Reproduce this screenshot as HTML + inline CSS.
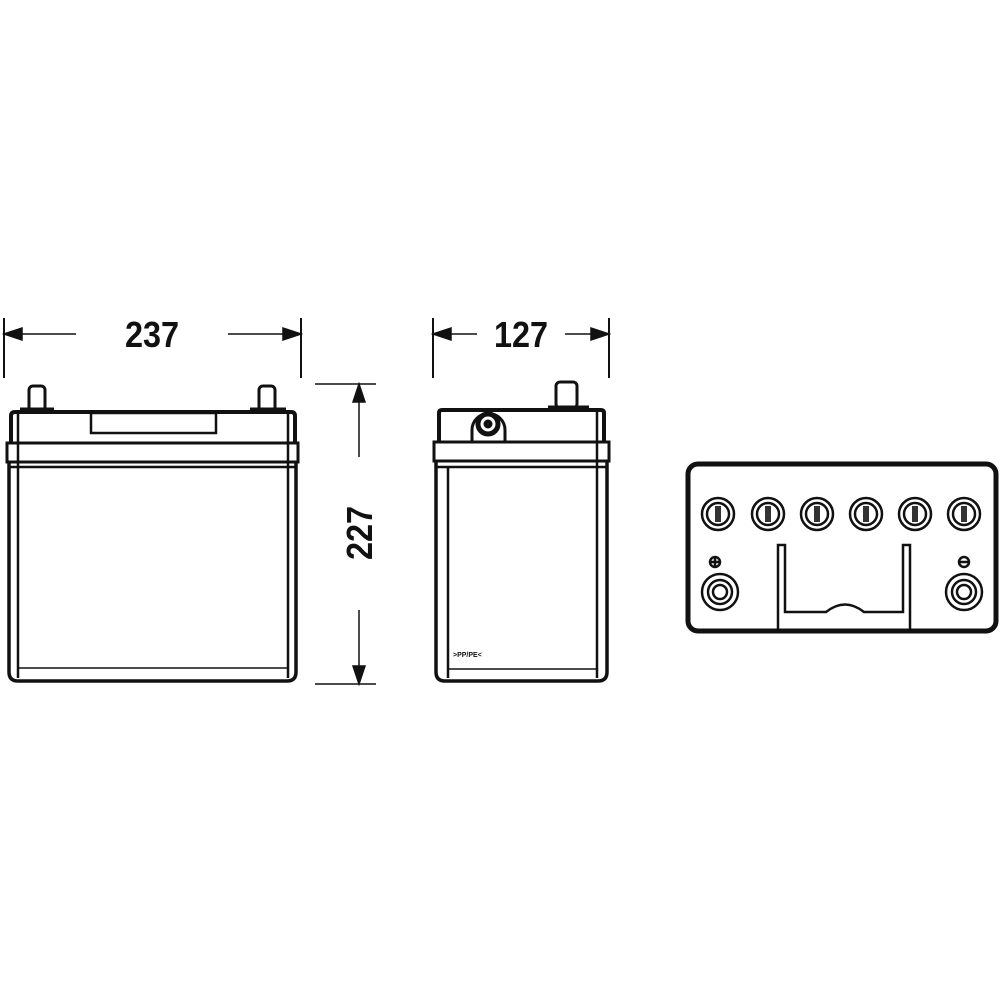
<!DOCTYPE html>
<html><head><meta charset="utf-8"><style>
html,body{margin:0;padding:0;background:#fff;width:1000px;height:1000px;overflow:hidden}
svg{display:block}
text{font-family:"Liberation Sans",sans-serif;font-weight:bold;fill:#111}
</style></head><body>
<svg width="1000" height="1000" viewBox="0 0 1000 1000" xmlns="http://www.w3.org/2000/svg">
<g stroke="#111" fill="none" stroke-width="1.5">
<!-- 237 dimension -->
<line x1="4" y1="318" x2="4" y2="378" stroke-width="2"/>
<line x1="301" y1="318" x2="301" y2="378" stroke-width="2"/>
<line x1="10" y1="334" x2="76" y2="334"/>
<line x1="228" y1="334" x2="294" y2="334"/>
<polygon points="4,334 22,328 22,340" fill="#111"/>
<polygon points="301,334 283,328 283,340" fill="#111"/>
<!-- 127 -->
<line x1="433" y1="318" x2="433" y2="378" stroke-width="2"/>
<line x1="609" y1="318" x2="609" y2="378" stroke-width="2"/>
<line x1="438" y1="334" x2="477" y2="334"/>
<line x1="565" y1="334" x2="604" y2="334"/>
<polygon points="433,334 451,328 451,340" fill="#111"/>
<polygon points="609,334 591,328 591,340" fill="#111"/>
<!-- 227 -->
<line x1="315" y1="384" x2="376" y2="384"/>
<line x1="315" y1="684" x2="376" y2="684"/>
<line x1="359" y1="390" x2="359" y2="457"/>
<line x1="359" y1="610" x2="359" y2="678"/>
<polygon points="359,384 353,402 365,402" fill="#111"/>
<polygon points="359,684 353,666 365,666" fill="#111"/>
</g>
<text x="152" y="347" font-size="36" text-anchor="middle" transform="translate(152 0) scale(0.9 1) translate(-152 0)">237</text>
<text x="521" y="347" font-size="36" text-anchor="middle" transform="translate(521 0) scale(0.9 1) translate(-521 0)">127</text>
<text x="0" y="0" font-size="36" text-anchor="middle" transform="translate(372 533) rotate(-90) scale(0.9 1)">227</text>

<!-- Front view -->
<g stroke="#111" fill="none">
<rect x="29" y="386" width="16" height="25" rx="4" stroke-width="3"/>
<rect x="259" y="386" width="16" height="25" rx="4" stroke-width="3"/>
<line x1="20" y1="409" x2="54" y2="409" stroke-width="3"/>
<line x1="250" y1="409" x2="286" y2="409" stroke-width="3"/>
<path d="M11,442 V416 Q11,412 15,412 H291 Q295,412 295,416 V442" stroke-width="4"/>
<rect x="91" y="413" width="125" height="20" stroke-width="2.5"/>
<rect x="7" y="443" width="291" height="19" stroke-width="3"/>
<line x1="9" y1="467" x2="296" y2="467" stroke-width="2.5"/>
<path d="M9,462 V672 Q9,681 18,681 H287 Q296,681 296,672 V462" stroke-width="3.5"/>
<line x1="18" y1="413" x2="18" y2="678" stroke-width="2.5"/>
<line x1="288" y1="413" x2="288" y2="678" stroke-width="2.5"/>
<line x1="18" y1="668" x2="288" y2="668" stroke-width="1.5"/>
</g>

<!-- Side view -->
<g stroke="#111" fill="none">
<rect x="556" y="382" width="21" height="26" rx="4" stroke-width="3"/>
<line x1="548" y1="407" x2="589" y2="407" stroke-width="3"/>
<path d="M439,441 V413 Q439,410 442,410 H601 Q604,410 604,413 V441" stroke-width="4"/>
<path d="M472,441 V430 A16,16 0 0 1 505,430 V441" stroke-width="3" fill="#fff"/>
<circle cx="488" cy="424" r="10" stroke-width="5"/>
<circle cx="488" cy="424" r="4" fill="#111"/>
<rect x="434" y="442" width="175" height="19" stroke-width="3"/>
<line x1="436" y1="467" x2="607" y2="467" stroke-width="2.5"/>
<path d="M436,461 V672 Q436,681 445,681 H598 Q607,681 607,672 V461" stroke-width="3.5"/>
<line x1="448" y1="467" x2="448" y2="678" stroke-width="2.5"/>
<line x1="597" y1="410" x2="597" y2="678" stroke-width="2.5"/>
<line x1="448" y1="669" x2="597" y2="669" stroke-width="1.5"/>
</g>
<text x="453" y="657" font-size="7" font-weight="bold">&gt;PP/PE&lt;</text>

<!-- Top view -->
<g stroke="#111" fill="none">
<rect x="688" y="464" width="308" height="167" rx="10" stroke-width="5"/>
<g stroke-width="2.5">
<circle cx="718" cy="514" r="16"/><circle cx="718" cy="514" r="11"/>
<circle cx="768" cy="514" r="16"/><circle cx="768" cy="514" r="11"/>
<circle cx="817" cy="514" r="16"/><circle cx="817" cy="514" r="11"/>
<circle cx="866" cy="514" r="16"/><circle cx="866" cy="514" r="11"/>
<circle cx="915" cy="514" r="16"/><circle cx="915" cy="514" r="11"/>
<circle cx="964" cy="514" r="16"/><circle cx="964" cy="514" r="11"/>
</g>
<g fill="#333" stroke="none">
<rect x="715" y="506" width="6" height="16"/><rect x="765" y="506" width="6" height="16"/>
<rect x="814" y="506" width="6" height="16"/><rect x="863" y="506" width="6" height="16"/>
<rect x="912" y="506" width="6" height="16"/><rect x="961" y="506" width="6" height="16"/>
</g>
<g stroke-width="2.5">
<circle cx="720" cy="592" r="18"/><circle cx="720" cy="592" r="12"/><circle cx="720" cy="592" r="7"/>
<circle cx="964" cy="592" r="18"/><circle cx="964" cy="592" r="12"/><circle cx="964" cy="592" r="7"/>
<circle cx="715" cy="562" r="5"/><line x1="710" y1="562" x2="720" y2="562"/><line x1="715" y1="557" x2="715" y2="567"/>
<circle cx="964" cy="562" r="5"/><line x1="959" y1="562" x2="969" y2="562"/>
</g>
<path d="M778,629 V545 H785 V612 H826 Q845,597 864,612 H903 V545 H910 V629" stroke-width="2.5"/>
</g>
</svg>
</body></html>
